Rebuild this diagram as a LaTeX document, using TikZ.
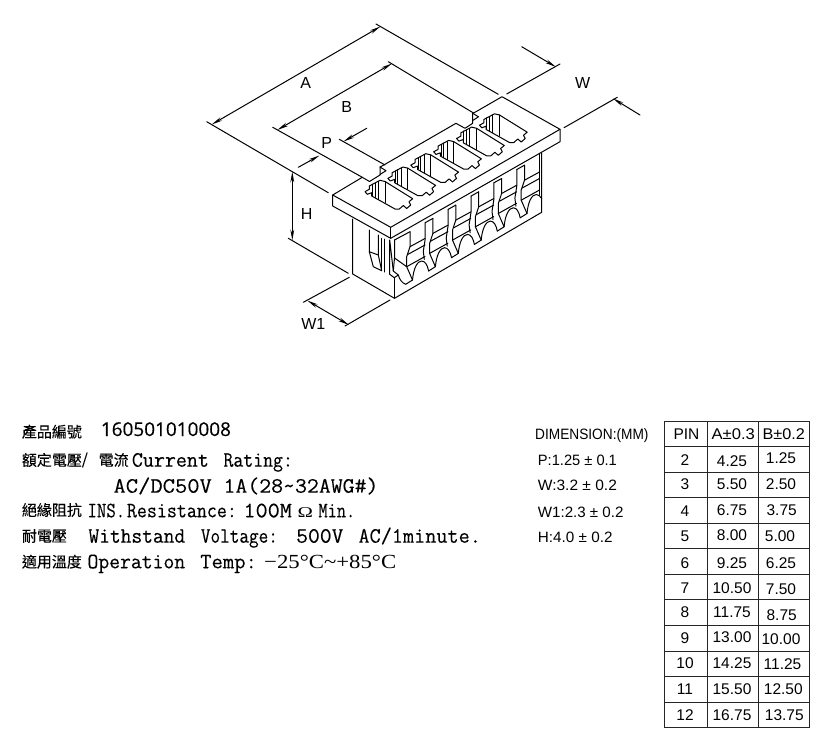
\documentclass[tikz,border=0pt]{standalone}
\usepackage{fontspec}
\usepackage{graphicx}
\usetikzlibrary{arrows.meta}
\setmainfont{Liberation Sans}
\newfontfamily\specf[FakeBold=0.25]{Latin Modern Mono}
\newfontfamily\cjkf[FakeBold=0.2]{Noto Sans CJK TC}
\newfontfamily\numf[FakeBold=0.35]{Open Sans}
\newfontfamily\serf{Liberation Serif}
\newcommand{\tw}[2]{\resizebox{#1pt}{\height}{#2}}
\tikzset{
  ln/.style={line width=1pt,line join=round,line cap=round},
  thinln/.style={line width=0.9pt,line join=round,line cap=round},
  dimboth/.style={ln,{Stealth[length=11pt,width=3.8pt]}-{Stealth[length=11pt,width=3.8pt]}},
  dimto/.style={ln,-{Stealth[length=11pt,width=3.8pt]}},
  lab/.style={inner sep=0pt,font=\fontsize{16}{16}\selectfont},
  spec/.style={inner sep=0pt,anchor=base west,font=\specf\fontsize{22}{22}\selectfont},
  cj/.style={inner sep=0pt,anchor=west,font=\cjkf\fontsize{15}{15}\selectfont},
  dimt/.style={inner sep=0pt,anchor=base west,font=\fontsize{15}{15}\selectfont},
  cell/.style={inner sep=0pt,font=\fontsize{15.5}{15.5}\selectfont},
  grid/.style={line width=1pt,draw=black!85}
}
\begin{document}
\begin{tikzpicture}[x=1pt,y=-1pt]
\useasboundingbox (0,0) rectangle (830,744);
% --- plate
\draw[ln] (332.7,195) -- (362.3,177.3) -- (369.5,181.5) -- (380,175) -- (380,167) -- (384.3,164.7) -- (456,123.3) -- (465,128.3) -- (472.7,123.3) -- (472.7,113.3) -- (476,111.7) -- (502,96.7) -- (560,129.3) -- (390.7,227.3) -- cycle;
\draw[ln] (380,167) -- (386,170.7) -- (380,174.5);
\draw[ln] (472.7,113.3) -- (478.5,116.8) -- (472.7,120.5);
\draw[ln] (332.7,195) -- (332.7,206) -- (390.7,238.3) -- (560,141.7) -- (560,129.3);
\draw[ln] (390.7,227.3) -- (390.7,238.3);
% --- cells
\foreach \k in {0,...,5}{
\begin{scope}[shift={(22.9*\k,-13.3*\k)}]
\draw[ln] (365,191.7) -- (369.3,189.3) -- (369.3,186) -- (380,180.3) -- (385,181.5) -- (412.7,198.7) -- (409,201.7) -- (410.7,205) -- (406.7,208.5) -- (403.3,205.5) -- (399.3,209) -- (395,209) -- (371.7,196) -- (371.7,192.7) -- (367.3,194.3) -- cycle;
\draw[ln] (372.3,184.3) -- (372.3,195.5) (375,183) -- (375,197.3) (378.3,181.5) -- (378.3,199.3) (385,181.5) -- (385,202.5);
\end{scope}}
% --- body outline
\draw[ln] (352.7,219) -- (352.7,274) -- (394.5,298.3) -- (541.7,212.3) -- (541.7,153);
\draw[ln] (394.5,298.3) -- (394.5,277.7);
\draw[thinln] (539.5,154) -- (539.5,195);
% --- left wall slot
\draw[ln] (369.3,230) -- (369.3,251.7) -- (373.3,266.7) -- (381.7,270.7) -- (378.3,255) -- (378.3,235);
\draw[ln] (369.3,251.7) -- (378.3,255);
\draw[ln] (381.7,238.3) -- (381.7,270.7);
\draw[ln] (384,239) -- (384,272);
% --- corner post
\draw[ln] (389.7,240) -- (389.7,274.3) -- (394.3,277.7) -- (398.3,275) -- (393.3,271) -- cycle;
\draw[ln] (394.5,240) -- (394.5,258) -- (393.3,271);
\draw[ln] (394.5,258) -- (406.7,266.7);
\draw[ln] (394.5,240) -- (410,231.7);
% --- slots, bands, arches
\draw[ln] (398.3,275) .. controls (399.5,279.5) and (402,283) .. (405.7,284.3);
\foreach \k in {0,...,5}{
\begin{scope}[shift={(22.9*\k,-13.3*\k)}]
\draw[ln] (410,231.7) -- (410,246.7) -- (406.7,256.7) -- (406.7,266.7) -- (412.5,280) -- (405.7,284.3);
\draw[ln] (410,246.7) -- (425,238.5) (407.7,254.5) -- (425,245) (406.7,266.7) -- (425,256.5);
\end{scope}}
\foreach \k in {1,...,5}{
\begin{scope}[shift={(22.9*\k,-13.3*\k)}]
\draw[ln] (402.3,236) -- (410,231.7);
\draw[ln] (402.3,236) -- (402.3,252.3) -- (400.4,264.7) -- (401.4,272.7);
\end{scope}}
\foreach \k in {0,...,4}{
\begin{scope}[shift={(22.9*\k,-13.3*\k)}]
\draw[ln] (412.5,280) .. controls (413.5,268) and (417.5,261) .. (421.7,261) .. controls (425,261) and (427.5,265) .. (428.6,271);
\end{scope}}
\draw[ln] (527,213.5) .. controls (528,201.5) and (532,194.5) .. (536.2,194.5) .. controls (538.2,194.5) and (540.2,196) .. (541.7,198.5);
% --- dimensions
\coordinate (al) at (206.7,121.7); \coordinate (ale) at (328.3,192.7);
\coordinate (ar) at (376,24); \coordinate (are) at (498.3,94.3);
\coordinate (aa) at (211.7,124.5); \coordinate (ab) at (380.5,26.5);
\draw[ln] (al) -- (ale); \draw[ln] (ar) -- (are);
\draw[dimboth] (aa) -- (ab);
\coordinate (bl) at (272.7,127.3); \coordinate (ble) at (362.3,177.3);
\coordinate (br) at (388.3,61.7); \coordinate (bre) at (473,112.7);
\coordinate (ba) at (277.3,130); \coordinate (bb) at (392,63.5);
\draw[ln] (bl) -- (ble); \draw[ln] (br) -- (bre);
\draw[dimboth] (ba) -- (bb);
\coordinate (p1) at (339.3,139.3); \coordinate (p1e) at (385,165);
\draw[ln] (p1) -- (p1e);
\coordinate (pa) at (366.7,128.3); \coordinate (pb) at (343.5,141.5);
\coordinate (pc) at (298.3,167.3); \coordinate (pd) at (319.5,155.5);
\draw[dimto] (pa) -- (pb); \draw[dimto] (pc) -- (pd);
\coordinate (hb) at (288.3,238.3); \coordinate (hbe) at (348.3,273.3);
\draw[ln] (hb) -- (hbe);
\coordinate (ha) at (292.3,171.5); \coordinate (hc) at (292.3,240.5);
\draw[dimboth] (ha) -- (hc);
\coordinate (w1a) at (349.3,277.3); \coordinate (w1b) at (303.3,302.3);
\coordinate (w1c) at (390,300); \coordinate (w1d) at (345,326);
\draw[ln] (w1a) -- (w1b); \draw[ln] (w1c) -- (w1d);
\coordinate (w1e) at (307.3,300.5); \coordinate (w1f) at (349,325);
\draw[dimboth] (w1e) -- (w1f);
\coordinate (wa) at (506.7,94); \coordinate (wb) at (560,64);
\coordinate (wc) at (564,127.7); \coordinate (wd) at (617.3,97.3);
\draw[ln] (wa) -- (wb); \draw[ln] (wc) -- (wd);
\coordinate (we) at (521.7,46.7); \coordinate (wf) at (556,67);
\coordinate (wg) at (640,115); \coordinate (wh) at (613,98.5);
\draw[dimto] (we) -- (wf); \draw[dimto] (wg) -- (wh);
\node[lab] (tA) at (305.7,83.3) {A};
\node[lab] (tB) at (346.7,106.7) {B};
\node[lab] (tP) at (326.7,143.3) {P};
\node[lab] (tH) at (306.7,214) {H};
\node[lab] (tW1) at (313.3,324.3) {W1};
\node[lab] (tW) at (582.7,83.3) {W};
% --- specification text
\node[cj] (c1) at (21.7,431.7) {產品編號};
\node[inner sep=0pt,anchor=base west,font=\numf\fontsize{19}{19}\selectfont] (sn) at (100.7,436) {\tw{130}{160501010008}};
\node[cj] (c2) at (21.7,460) {額定電壓};
\node[cj] (c2b) at (81.7,460) {/};
\node[cj] (c2c) at (98.5,460) {電流};
\node[spec] (s1) at (131.7,466.7) {\tw{77}{Current}};
\node[spec] (s2) at (223.3,466.7) {\tw{69.4}{Rating:}};
\node[spec] (s3) at (113.3,492.7) {\tw{98.4}{AC/DC50V}};
\node[spec] (s4) at (223.3,492.7) {\tw{155}{1A(28\char`\~32AWG\#)}};
\node[cj] (c3) at (21.7,510) {絕緣阻抗};
\node[spec] (s5) at (87.3,517.3) {\tw{37.7}{INS.}};
\node[spec] (s6) at (126.7,517.3) {\tw{110}{Resistance:}};
\node[spec] (s7) at (243.3,517.3) {\tw{48.4}{100M}};
\node[inner sep=0pt,anchor=base west,font=\serf\fontsize{15}{15}\selectfont] (s8) at (297.3,517.3) {\tw{15.4}{Ω}};
\node[spec] (s9) at (318.3,517.3) {\tw{36.7}{Min.}};
\node[cj] (c4) at (21.7,536) {耐電壓};
\node[spec] (s10) at (88.3,542.7) {\tw{96.7}{Withstand}};
\node[spec] (s11) at (200.7,542.7) {\tw{77}{Voltage:}};
\node[spec] (s12) at (296,542.7) {\tw{47.3}{500V}};
\node[spec] (s13) at (358.3,542.7) {\tw{122.4}{AC/1minute.}};
\node[cj] (c5) at (21.7,561.7) {適用溫度};
\node[spec] (s14) at (87.3,568.3) {\tw{97.7}{Operation}};
\node[spec] (s15) at (200,568.3) {\tw{56.7}{Temp:}};
\node[inner sep=0pt,anchor=base west,font=\serf\fontsize{20}{20}\selectfont] (s16) at (264,568.3) {\tw{132}{−25°C\char`\~+85°C}};
% --- dimensions list
\node[dimt] (d0) at (535,439.5) {\tw{113.3}{DIMENSION:(MM)}};
\node[dimt] (d1) at (537.7,465.5) {\tw{79}{P:1.25 ± 0.1}};
\node[dimt] (d2) at (537.7,490.5) {\tw{79}{W:3.2 ± 0.2}};
\node[dimt] (d3) at (537.7,517) {\tw{85.6}{W1:2.3 ± 0.2}};
\node[dimt] (d4) at (537.7,542) {\tw{74.6}{H:4.0 ± 0.2}};
% --- table
\draw[grid] (664.3,421) rectangle (809.3,727.7);
\foreach \i in {1,...,11}{\draw[grid] (664.3,421+25.56*\i) -- (809.3,421+25.56*\i);}
\draw[grid] (707,421) -- (707,727.7);
\draw[grid] (758.3,421) -- (758.3,727.7);
\node[cell] (hpin) at (686.5,434.3) {PIN};
\node[cell] (ha1) at (733.3,434.3) {\tw{43.3}{A±0.3}};
\node[cell] (hb1) at (783.8,434.3) {\tw{42.3}{B±0.2}};
\foreach \n/\a/\b/\yn/\ya/\yb/\xb in {
2/4.25/1.25/460/460.7/458.3/781,
3/5.50/2.50/484.3/484/484/781,
4/6.75/3.75/510.7/510/510/781.7,
5/8.00/5.00/536/535/535.7/780,
6/9.25/6.25/563/563/563/781,
7/10.50/7.50/588.3/588.3/589/781,
8/11.75/8.75/612.3/612.3/615/781.7,
9/13.00/10.00/637.7/637.3/639/781,
10/14.25/11.25/663.3/663.3/664/782.5,
11/15.50/12.50/689/689/689/783.3,
12/16.75/13.75/715/715/715/784.3}{
\node[cell] (pin\n) at (685,\yn) {\n};
\node[cell] (a\n) at (732,\ya) {\a};
\node[cell] (b\n) at (\xb,\yb) {\b};
}
\end{tikzpicture}
\end{document}
